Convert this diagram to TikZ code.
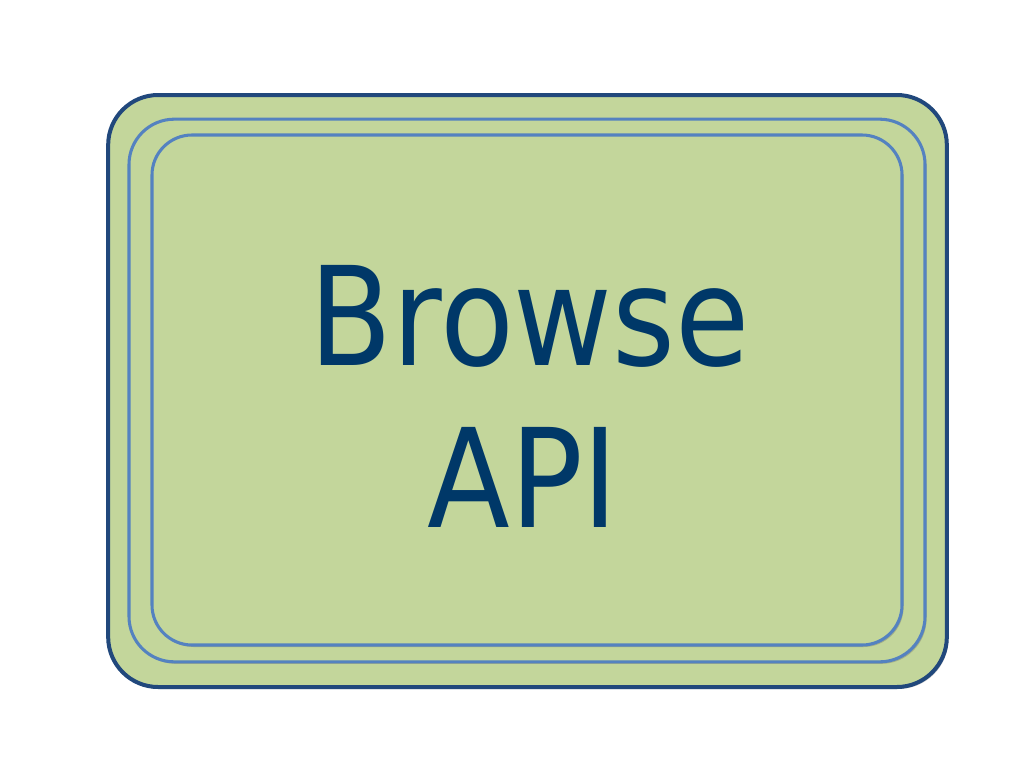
\documentclass[tikz,border=0pt]{standalone}
\usepackage{fontspec}
\setmainfont{DejaVu Sans}
\newfontfamily\labelfont[FakeStretch=0.88]{DejaVu Sans}
\usetikzlibrary{shadows,positioning}
\definecolor{boxfill}{RGB}{195,214,155}
\definecolor{darkline}{RGB}{33,72,124}
\definecolor{lightline}{RGB}{84,130,192}
\definecolor{textblue}{RGB}{0,56,104}

\begin{document}
\begin{tikzpicture}[
  x=0.75pt,y=-0.75pt,
  every node/.style={inner sep=0pt,outer sep=0pt},%
  dr/.style={drop shadow={shadow xshift=1.2pt,shadow yshift=-1.5pt,opacity=.35,fill=black!60}},%
  bx/.style={fill=boxfill,rounded corners=#1},%
  o/.style={draw=darkline,line width=3pt},%
  l/.style={draw=lightline,line width=2.3pt},%
  t/.style={text=textblue,font=\labelfont\fontsize{103}{121}\selectfont},%
  ]
  \useasboundingbox (0,0) rectangle (1024,768);

  \node (outer) [bx=37.5pt,o,dr,minimum width=629pt,minimum height=444pt%
  ] at (527.5,391) {};
  \node (middle) [bx=34pt,l,dr,minimum width=597pt,minimum height=407pt%
  ] at (527,390.5) {};
  \node (inner) [bx=30pt,l,dr,minimum width=562.5pt,minimum height=382.5pt%
  ] at (527,390) {};

  \node (browse) [t,anchor=base] at (530,365) {Browse};
  \node (api) [t,anchor=base] at (523,527) {API};
\end{tikzpicture}
\end{document}
